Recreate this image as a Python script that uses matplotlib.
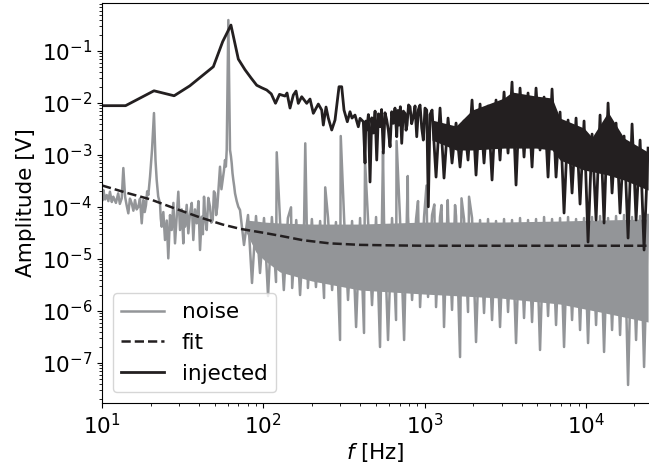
import matplotlib
matplotlib.use("Agg")
import matplotlib.pyplot as plt

plt.rcParams.update({
    "font.family": "DejaVu Sans",
    "font.size": 15.5,
    "mathtext.fontset": "dejavusans",
})

grey = "#939598"
black = "#231f20"

# noise spectrum, low frequency part (10 - 72 Hz)
noise_low_freq = [10.0, 10.1, 10.2, 10.45, 10.7, 10.95, 11.2, 11.5, 11.75, 12.2, 12.6, 12.9,
                  13.25, 13.56, 13.9, 14.2, 14.56, 14.9, 15.28, 15.65, 16.02, 16.4, 16.79,
                  17.2, 17.63, 18.03, 18.4, 18.74, 19.05, 19.37, 19.85, 20.42, 21.0, 21.46,
                  21.83, 22.3, 22.88, 23.15, 23.45, 24.0, 24.58, 25.2, 25.76, 26.4, 27.04,
                  27.7, 28.35, 29.0, 29.72, 30.45, 31.2, 31.92, 32.3, 32.7, 33.5, 34.28,
                  35.13, 36.0, 36.82, 37.7, 38.65, 39.6, 40.52, 41.51, 42.2, 42.9, 43.7,
                  44.58, 45.6, 46.72, 47.6, 48.57, 49.4, 50.18, 51.0, 51.86, 52.9, 53.9,
                  55.0, 56.02, 57.0, 57.89, 58.6, 59.31, 60.7, 62.17, 63.0, 63.7, 64.4,
                  65.17, 66.0, 66.79, 68.4, 69.99, 71.71]
noise_low_amp = [1.56e-4, 1.35e-4, 2.12e-4, 1.40e-4, 1.70e-4, 1.30e-4, 1.97e-4, 1.25e-4,
                 1.58e-4, 1.20e-4, 1.83e-4, 1.15e-4, 1.47e-4, 5.62e-4, 1.58e-4, 1.10e-4,
                 7.57e-5, 1.45e-4, 1.18e-4, 8.5e-5, 1.36e-4, 9.0e-5, 1.01e-4, 1.45e-4,
                 4.86e-5, 1.36e-4, 8.0e-5, 1.09e-4, 2.0e-4, 1.70e-4, 3.83e-4, 1.25e-3,
                 6.42e-3, 8.01e-4, 3.31e-4, 1.6e-4, 1.18e-4, 6.0e-5, 4.18e-5, 8.0e-5,
                 2.32e-5, 5.5e-5, 1.03e-5, 7.0e-5, 3.61e-5, 1.2e-4, 2.00e-5, 6.0e-5,
                 1.97e-4, 3.61e-5, 9.0e-5, 2.00e-5, 8.0e-5, 4.18e-5, 1.1e-4, 3.12e-5,
                 7.57e-5, 1.2e-4, 2.32e-5, 9.0e-5, 4.86e-5, 1.3e-4, 1.49e-5, 6.51e-5,
                 3.0e-5, 1.58e-4, 6.0e-5, 3.61e-5, 1.5e-4, 1.01e-4, 5.0e-5, 5.62e-5,
                 2.0e-4, 1.83e-4, 7.0e-5, 1.01e-4, 2.5e-4, 5.96e-4, 2.2e-4, 3.31e-4,
                 5.0e-4, 8.01e-4, 6.0e-4, 1.25e-3, 0.395, 1.25e-3, 9.5e-4, 6.93e-4,
                 4.5e-4, 3.31e-4, 2.5e-4, 1.83e-4, 1.3e-4, 1.01e-4, 8.75e-5]

# noise spectrum, broadband part with mains harmonics
noise_band_freq = [75.9, 80.4, 85.1, 90.1, 95.4, 101, 107, 113, 119.9, 121.1, 127, 134,
                   142, 148.5, 151, 160, 169, 179, 182, 189, 200, 212, 225, 238, 242, 252,
                   267, 282, 299, 302, 317, 335, 355, 376, 398, 421, 427, 446, 472, 500,
                   529, 552, 560, 593, 628, 665, 670, 704, 746, 786, 789, 836, 885, 910,
                   937, 992, 1027, 1050, 1112, 1148, 1177, 1246, 1273, 1319, 1391, 1397,
                   1479, 1544, 1566, 1658, 1693, 1755, 1858, 1885, 1968, 2083, 2206, 2335,
                   2472, 2618, 2771, 2934, 3107, 3289, 3482, 3687, 3904, 4133, 4376, 4634,
                   4906, 5194, 5500, 5823, 6165, 6527, 6911, 7317, 7747, 8203, 8685, 9195,
                   9735, 10307, 10913, 11555, 12234, 12953, 13714, 14520, 15373, 16277,
                   17234, 18247, 19319, 20455, 21657, 22930, 24277]
noise_band_amp = [1.86e-5, 7.02e-5, 3.46e-6, 6.71e-5, 5.38e-6, 6.14e-5, 1.94e-6, 6.42e-5,
                  3.61e-6, 1.13e-3, 5.38e-5, 2.53e-6, 6.14e-5, 9.87e-5, 2.77e-6, 5.62e-5,
                  2.03e-6, 5.14e-5, 1.68e-3, 2.77e-6, 5.87e-5, 2.89e-6, 5.38e-5, 1.78e-6,
                  2.39e-4, 6.14e-5, 2.53e-6, 5.14e-5, 2.77e-7, 2.32e-3, 5.87e-5, 1.63e-6,
                  5.38e-5, 4.92e-7, 6.14e-5, 3.78e-7, 8.01e-4, 5.62e-5, 1.30e-6, 6.42e-5,
                  2.03e-7, 1.19e-3, 5.62e-5, 2.77e-7, 6.14e-5, 6.71e-7, 1.86e-3, 5.87e-5,
                  2.77e-7, 3.95e-4, 6.71e-5, 1.63e-6, 5.87e-5, 1.30e-4, 1.19e-6, 6.42e-5,
                  2.59e-4, 1.86e-6, 7.02e-5, 1.12e-4, 1.19e-6, 6.42e-5, 1.09e-4, 4.92e-7,
                  1.36e-4, 7.33e-5, 1.05e-6, 1.09e-4, 6.71e-5, 1.30e-7, 1.47e-4, 5.87e-5,
                  9.57e-7, 1.58e-4, 6.14e-5, 2.53e-7, 5.62e-5, 9.15e-7, 5.87e-5, 6.71e-7,
                  5.38e-5, 4.92e-7, 5.87e-5, 9.57e-7, 5.62e-5, 2.42e-7, 6.14e-5, 7.33e-7,
                  5.62e-5, 6.14e-7, 5.87e-5, 1.78e-7, 6.42e-5, 8.01e-7, 5.87e-5, 5.38e-7,
                  6.14e-5, 2.03e-7, 6.42e-5, 6.71e-7, 5.87e-5, 4.31e-7, 6.14e-5, 2.42e-7,
                  6.42e-5, 5.38e-7, 6.71e-5, 1.63e-7, 6.14e-5, 4.31e-7, 6.71e-5, 3.46e-7,
                  7.02e-5, 3.78e-8, 6.42e-5, 2.77e-7, 6.71e-5, 8.38e-8, 7.02e-5]

# solid body of the noise band
noise_core_freq = [78, 90, 101, 127, 200, 398, 992, 2934, 6911, 12234, 24277]
noise_core_top = [5.62e-5, 5.38e-5, 5.14e-5, 4.92e-5, 4.70e-5, 4.70e-5, 5.14e-5, 5.14e-5,
                  5.38e-5, 5.62e-5, 5.87e-5]
noise_core_bot = [3.31e-5, 1.36e-5, 9.57e-6, 5.62e-6, 3.78e-6, 2.53e-6, 2.12e-6, 1.78e-6,
                  1.36e-6, 9.57e-7, 6.14e-7]

# fitted noise floor
fit_freq = [10, 14, 20, 28, 40, 56, 72, 100, 127, 176, 258, 400, 700, 1000, 3000, 10000,
            24600]
fit_amp = [2.6e-4, 1.9e-4, 1.4e-4, 9.5e-5, 6.4e-5, 4.6e-5, 3.8e-5, 3.2e-5, 2.8e-5, 2.3e-5,
           2.0e-5, 1.87e-5, 1.82e-5, 1.8e-5, 1.8e-5, 1.8e-5, 1.8e-5]

# injected signal
inj_low_freq = [7, 14, 21, 28, 35, 42, 49, 56, 63, 70, 77, 84, 91, 98, 105, 112, 119, 126]
inj_low_amp = [0.0089, 0.0089, 0.0172, 0.0138, 0.0214, 0.034, 0.050, 0.152, 0.316, 0.070,
               0.0437, 0.0303, 0.022, 0.0196, 0.0178, 0.0150, 0.0099, 0.0147]

inj_mid_freq = [136.3, 140.3, 146.4, 153.5, 159.5, 164.8, 173.0, 185.8, 194.8, 204.2, 219.3,
                230.2, 235.5, 244.8, 252.9, 265.5, 278.3, 294.7, 306.2, 316.4, 331.7, 344.7,
                354.7, 370.2, 388.1, 397.7, 416.9, 427.1, 432, 437.6, 448, 458.7, 470,
                480.9, 493, 504.8, 517, 529.1, 541, 554.6, 568, 582.2, 596, 610.3, 625,
                639.7, 655, 671.5, 682, 693.9, 707, 721.1, 738, 755.9, 767, 777.8, 795,
                812.0, 831, 851.2, 872, 893.5, 915, 936.6, 959.6, 981.6, 1005, 1030.4,
                1054.2, 1080]
inj_mid_amp = [0.01363, 0.0156, 0.00801, 0.01425, 0.0170, 0.00987, 0.01322, 0.00987, 0.01194,
               0.00634, 0.00957, 0.00733, 0.00377, 0.00838, 0.00514, 0.00303, 0.00471, 0.0206,
               0.0206, 0.00733, 0.00437, 0.0068, 0.00514, 0.00587, 0.0035, 0.00508, 0.00437,
               0.000702, 0.0045, 0.00303, 0.0060, 0.000303, 0.0052, 0.00265, 0.0070,
               0.000801, 0.0062, 0.0035, 0.0075, 0.00109, 0.0065, 0.00471, 0.0030, 0.00144,
               0.0068, 0.00407, 0.0080, 0.00225, 0.0072, 0.00377, 0.0085, 0.00168, 0.0070,
               0.00634, 0.0030, 0.00377, 0.0092, 0.00849, 0.0040, 0.00545, 0.0088, 0.00225,
               0.0075, 0.00915, 0.0033, 0.00194, 0.0080, 0.00733, 0.000101, 0.0060]

inj_band_freq = [1112, 1177, 1246, 1319, 1397, 1479, 1566, 1658, 1755, 1858, 1968, 2083,
                 2206, 2335, 2472, 2618, 2771, 2934, 3107, 3289, 3482, 3687, 3904, 4133,
                 4376, 4634, 4906, 5194, 5500, 5823, 6165, 6527, 6911, 7317, 7747, 8203,
                 8685, 9195, 9735, 10307, 10913, 11555, 12234, 12953, 13714, 14520, 15373,
                 16277, 17234, 18247, 19319, 20455, 21657, 22930, 24277]
inj_band_amp = [0.00733, 0.000377, 0.00801, 0.000361, 0.00514, 0.000702, 0.00412, 0.000588,
                0.00451, 0.000801, 0.01142, 0.000412, 0.00957, 0.000702, 0.00876, 0.000331,
                0.01142, 0.000801, 0.0163, 0.00109, 0.0253, 0.000265, 0.0194, 0.000915,
                0.0156, 0.000588, 0.0194, 0.00125, 0.01304, 0.000377, 0.0186, 0.000377,
                0.00671, 7.67e-5, 0.00471, 0.000186, 0.00514, 0.000114, 0.00451, 2.12e-5,
                0.00253, 5.62e-5, 0.00587, 4.92e-5, 0.0100, 0.000186, 0.00412, 7.67e-5,
                0.00232, 2.53e-5, 0.00395, 5.62e-5, 0.00194, 1.49e-5, 0.00136]

# solid body of the injected band
inj_core_freq = [1112, 1566, 1968, 3107, 3482, 4906, 6165, 6911, 9735, 10913, 13714, 17234,
                 24277]
inj_core_top = [0.00471, 0.00361, 0.00733, 0.01248, 0.0163, 0.01363, 0.01248, 0.00514,
                0.0033, 0.0022, 0.00671, 0.00212, 0.00114]
inj_core_bot = [0.00194, 0.00125, 0.00125, 0.00136, 0.00136, 0.00136, 0.00125, 0.000801,
                0.000515, 0.00048, 0.000412, 0.000331, 0.000212]

fig = plt.figure(figsize=(6.49, 4.67), dpi=100)
ax = fig.add_axes([102 / 649, 1 - 403 / 467, 547 / 649, 400 / 467])

ax.fill_between(noise_core_freq, noise_core_bot, noise_core_top, color=grey, lw=0)
ax.plot(noise_low_freq + noise_band_freq, noise_low_amp + noise_band_amp,
        color=grey, lw=1.8, label="noise")
ax.plot(fit_freq, fit_amp, "--", color=black, lw=1.8, label="fit")
ax.fill_between(inj_core_freq, inj_core_bot, inj_core_top, color=black, lw=0)
ax.plot(inj_low_freq + inj_mid_freq + inj_band_freq, inj_low_amp + inj_mid_amp + inj_band_amp,
        color=black, lw=2.0, label="injected")

ax.set_xscale("log")
ax.set_yscale("log")
ax.set_xlim(10, 24600)
ax.set_ylim(1.7e-8, 0.84)
ax.set_xlabel("$f$ [Hz]", labelpad=2)
ax.set_ylabel("Amplitude [V]")
ax.spines["right"].set_visible(False)
ax.legend(loc="lower left")

fig.savefig("out.png", dpi=100)
